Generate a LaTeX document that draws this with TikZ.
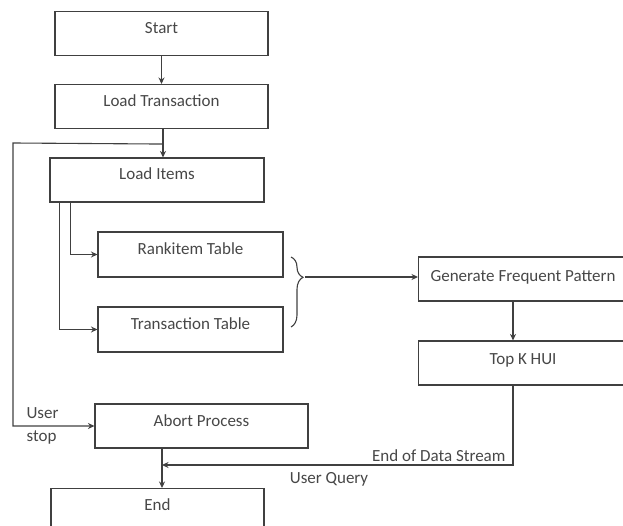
\documentclass[tikz,border=0pt]{standalone}
\usepackage{fontspec}
\setmainfont{Carlito}
\usetikzlibrary{positioning,decorations.pathreplacing,calc,arrows.meta}

\begin{document}
\begin{tikzpicture}[x=1pt, y=-1pt, line width=1.1pt, draw=black!75, text=black!72,
    font=\fontsize{17}{19}\selectfont,
    >={Stealth[length=6.5pt, width=6pt]},
    box/.style={draw, minimum height=44pt, text height=11pt, text depth=11pt, inner sep=2pt},
    lbl/.style={inner sep=0pt}]
      \clip (0,0) rectangle (623,526);
      \node[box, minimum width=213pt] (start) at (161.5,33.5) {Start};
      \node[box, minimum width=213pt] (loadtrans) at (161.5,106.5) {Load Transaction};
      \node[box, minimum width=214pt] (loaditems) at (157,180) {Load Items};
      \node[box, minimum width=185pt, minimum height=45pt] (rankitem) at (190.5,254.5) {Rankitem Table};
      \node[box, minimum width=185pt, minimum height=45pt] (transtable) at (190.5,329.5) {Transaction Table};
      \node[box, minimum width=230pt, anchor=west] (generate) at (418,279) {};
      \node[lbl, anchor=west] (genlbl) at (430,277) {Generate Frequent Pattern};
      \node[box, minimum width=230pt, anchor=west] (topk) at (418,363) {};
      \node[lbl] (topklbl) at (523,360) {Top K HUI};
      \node[box, minimum width=213pt] (abort) at (201.5,426) {Abort Process};
      \node[box, minimum width=213pt, anchor=north] (endnode) at (157.5,488) {End};
      \coordinate (loopturn) at (13,143);
      \coordinate (merge) at (162,465);
      \draw[decorate, decoration={brace, amplitude=12pt, aspect=0.29}] (291,257) -- (291,327);
      \coordinate (bracetip) at (305,277);
      \node[lbl, anchor=base east] (eods) at (506,461) {End of Data Stream};
      \node[lbl] (uquery) at (329,479) {User Query};
      \node[lbl, anchor=west] (user) at (26,413) {User};
      \node[lbl, anchor=west] (ustop) at (26,437) {stop};
      \path[->]
        (start) edge (loadtrans)
        ([xshift=1.5pt]loadtrans.south) edge ([xshift=1.5pt]loadtrans.south |- loaditems.north)
        (bracetip) edge (bracetip -| generate.west)
        ([xshift=95pt]generate.south west) edge ([xshift=95pt]topk.north west)
        (abort.south -| merge) edge (endnode.north -| merge)
        ;
      \draw[->] ($(loadtrans.south)+(1.5,15)$) -- (loopturn) |- (abort.west);
      \draw[->] ([xshift=21pt]loaditems.south west) |- (rankitem.west);
      \draw[->] ([xshift=10pt]loaditems.south west) |- (transtable.west);
      \draw[->] ([xshift=95pt]topk.south west) |- (merge);
\end{tikzpicture}
\end{document}
